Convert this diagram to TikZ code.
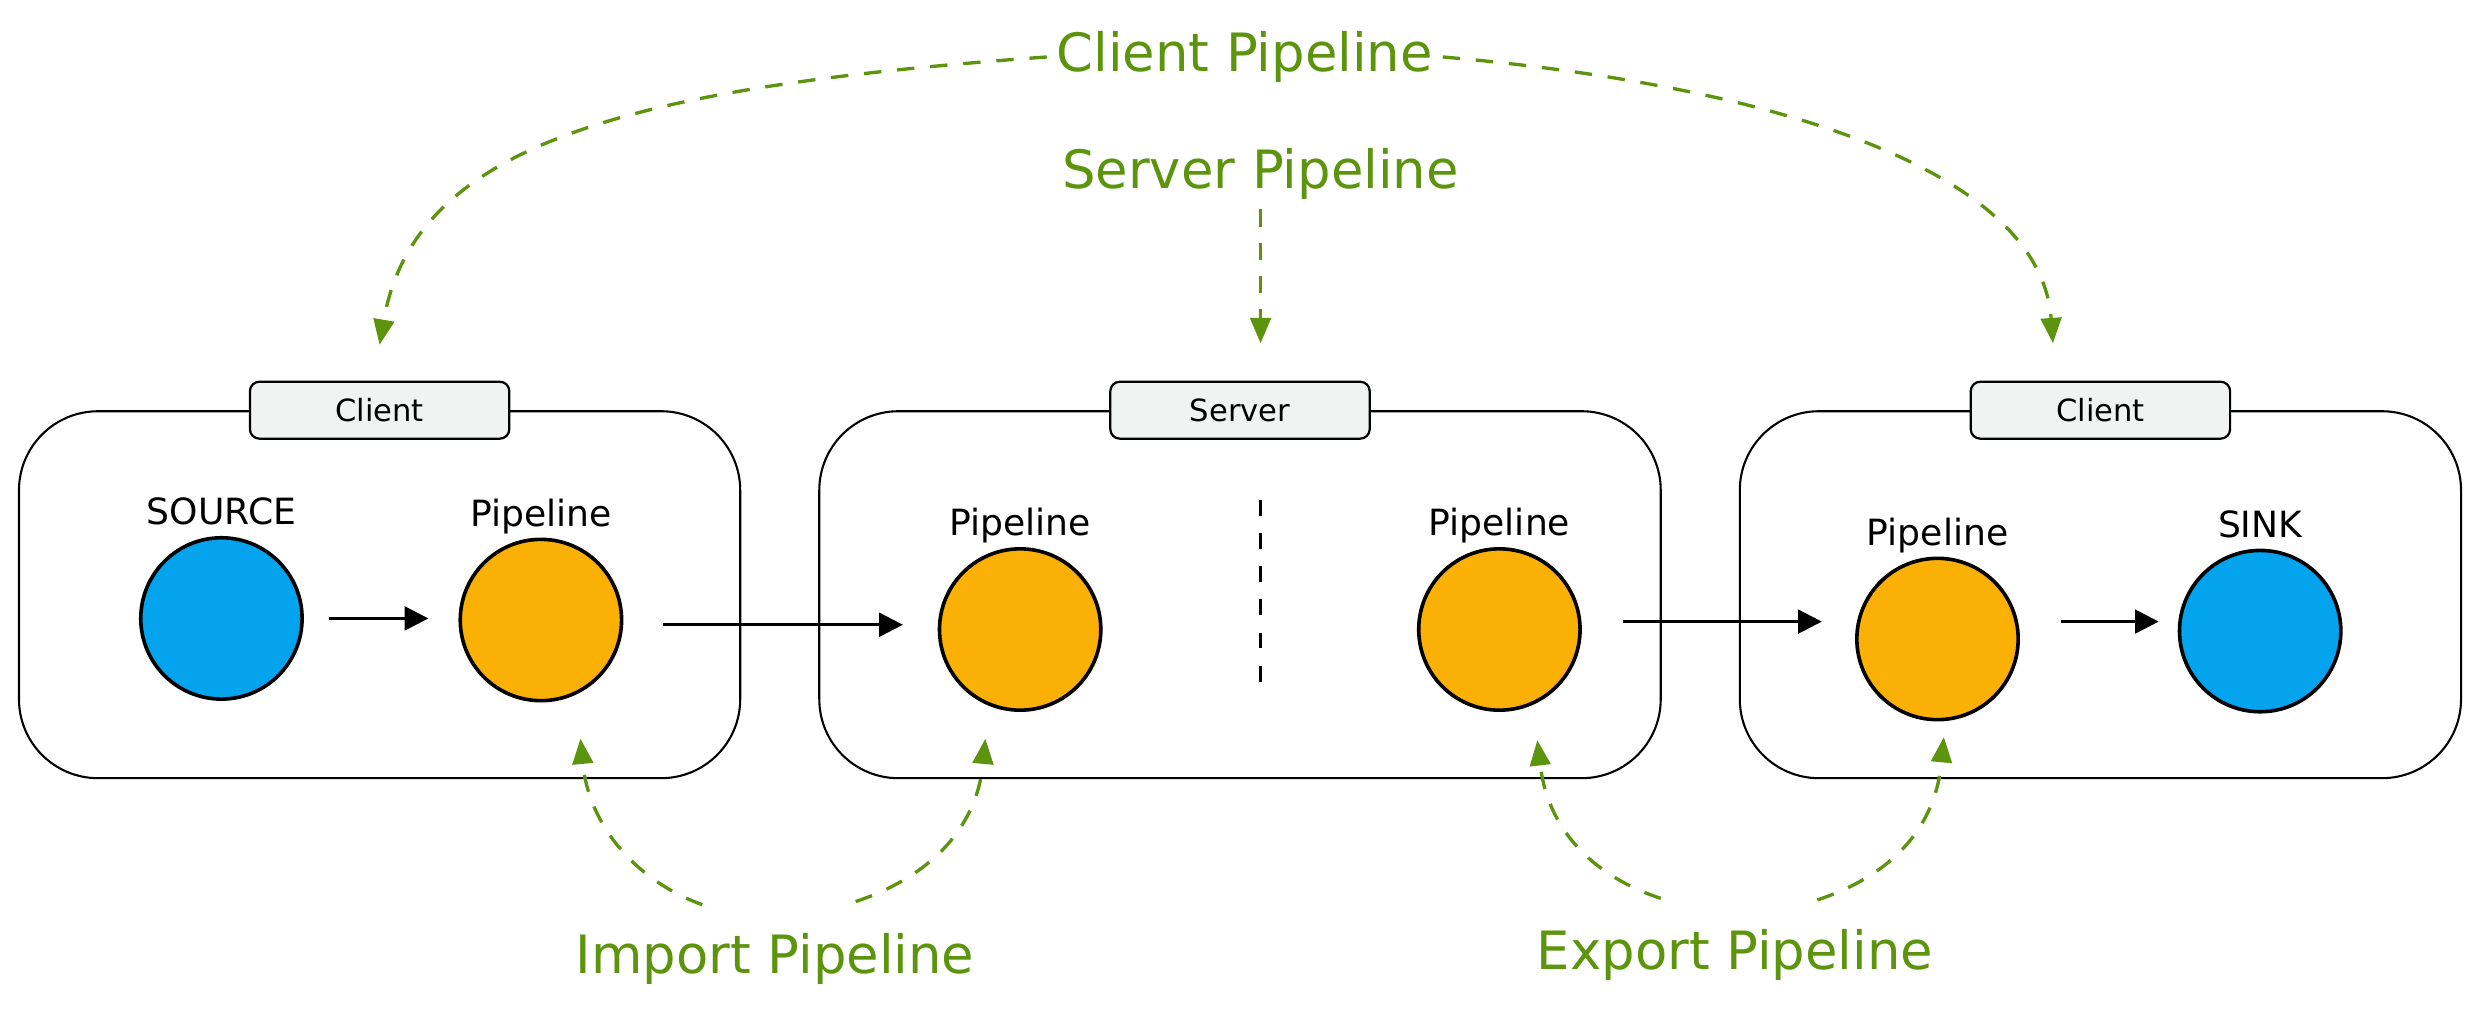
\documentclass[tikz,border=0pt]{standalone}
\usepackage{fontspec}
\setmainfont{DejaVu Sans}
\usetikzlibrary{arrows.meta,positioning}

\definecolor{pipeorange}{HTML}{FAB005}
\definecolor{endblue}{HTML}{03A3EE}
\definecolor{notegreen}{HTML}{5C940D}
\definecolor{tabgray}{HTML}{F1F3F2}

\tikzset{
    hostbox/.style={draw, line width=0.75pt, rounded corners=10mm, minimum height=46.4mm},
    hosttab/.style={draw, line width=0.8pt, fill=tabgray, rounded corners=1.2mm, minimum width=32.8mm, minimum height=7.2mm, font=\fontsize{11}{13}\selectfont},
    pipe/.style={circle, draw, line width=1.3pt, fill=pipeorange, minimum size=20.4mm},
    endpoint/.style={pipe, fill=endblue},
    tag/.style={font=\fontsize{13}{15}\selectfont, anchor=base, inner sep=0pt},
    note/.style={text=notegreen, font=\fontsize{19}{22}\selectfont},
    flow/.style={line width=1pt, -{Triangle[length=3mm, width=3mm]}},
    hint/.style={draw=notegreen, line width=1.2pt, dash pattern=on 2.2mm off 2mm, -{Triangle[length=3.2mm, width=2.6mm]}}
}

\begin{document}
\begin{tikzpicture}[x=0.2mm, y=-0.2mm]
    \useasboundingbox (0,0) rectangle (1568,641);

    % Draw the hosts
    \node[hostbox, minimum width=91.2mm] (cbox) at (240,376) {};
    \node[hostbox, minimum width=106.4mm] (sbox) at (784,376) {};
    \node[hostbox, minimum width=91.2mm] (rbox) at (1328,376) {};

    \node[hosttab] (ctab) at (cbox.north) {Client};
    \node[hosttab] (stab) at (sbox.north) {Server};
    \node[hosttab] (rtab) at (rbox.north) {Client};

    % Draw the pipelines
    \node[endpoint] (src) at (140,391) {};
    \node[pipe] (cp) at (342,392) {};
    \node[pipe] (spin) at (645,398) {};
    \node[pipe] (spout) at (948,398) {};
    \node[pipe] (rp) at (1225,404) {};
    \node[endpoint] (sink) at (1429,399) {};

    % Label the circles
    \node[tag] (srclbl) at ([yshift=1.4mm]src.north) {SOURCE};
    \node[tag] (cplbl) at ([yshift=1.4mm]cp.north) {Pipeline};
    \node[tag] (spinlbl) at ([yshift=1.4mm]spin.north) {Pipeline};
    \node[tag] (spoutlbl) at ([yshift=1.4mm]spout.north) {Pipeline};
    \node[tag] (rplbl) at ([yshift=1.4mm]rp.north) {Pipeline};
    \node[tag] (sinklbl) at ([yshift=1.4mm]sink.north) {SINK};

    % Split the server in two
    \coordinate (divtop) at (797,316);
    \coordinate (divbot) at (797,435);
    \draw[line width=0.8pt, dash pattern=on 2mm off 2.2mm] (divtop) -- (divbot);

    % Data flow
    \draw[flow, shorten <=3.2mm, shorten >=3.8mm] (src.east) -- (src.east -| cp.west);
    \draw[flow, shorten <=5mm, shorten >=4.4mm] ([yshift=-0.6mm]cp.east) -- ([yshift=-0.6mm]cp.east -| spin.west);
    \draw[flow, shorten <=5.2mm, shorten >=4.2mm] ([yshift=1mm]spout.east) -- ([yshift=1mm]spout.east -| rp.west);
    \draw[flow, shorten <=5.2mm, shorten >=2.4mm] ([yshift=1.2mm]rp.east |- sink.west) -- ([yshift=1.2mm]sink.west);

    % Green notes
    \node[note] (cpnote) at (787,36) {Client Pipeline};
    \node[note] (spnote) at (797,110) {Server Pipeline};
    \node[note] (imnote) at (490,606) {Import Pipeline};
    \node[note] (exnote) at (1097,604) {Export Pipeline};

    \coordinate (cptipL) at (240,218);
    \coordinate (cptipR) at (1298,217);
    \coordinate (sptip) at (797,217);
    \draw[hint] (cpnote.west) .. controls (400,55) and (262,90) .. (cptipL);
    \draw[hint] (cpnote.east) .. controls (1130,55) and (1290,110) .. (cptipR);
    \draw[hint] (spnote.south) -- (sptip);

    \coordinate (imL) at (444,572);
    \coordinate (imR) at (541,570);
    \coordinate (imtipL) at (367,467);
    \coordinate (imtipR) at (623,467);
    \draw[hint] (imL) .. controls (400,556) and (372,520) .. (imtipL);
    \draw[hint] (imR) .. controls (592,553) and (618,520) .. (imtipR);

    \coordinate (exL) at (1050,568);
    \coordinate (exR) at (1149,569);
    \coordinate (extipL) at (972,468);
    \coordinate (extipR) at (1229,466);
    \draw[hint] (exL) .. controls (1002,552) and (978,520) .. (extipL);
    \draw[hint] (exR) .. controls (1200,552) and (1224,520) .. (extipR);

\end{tikzpicture}
\end{document}
